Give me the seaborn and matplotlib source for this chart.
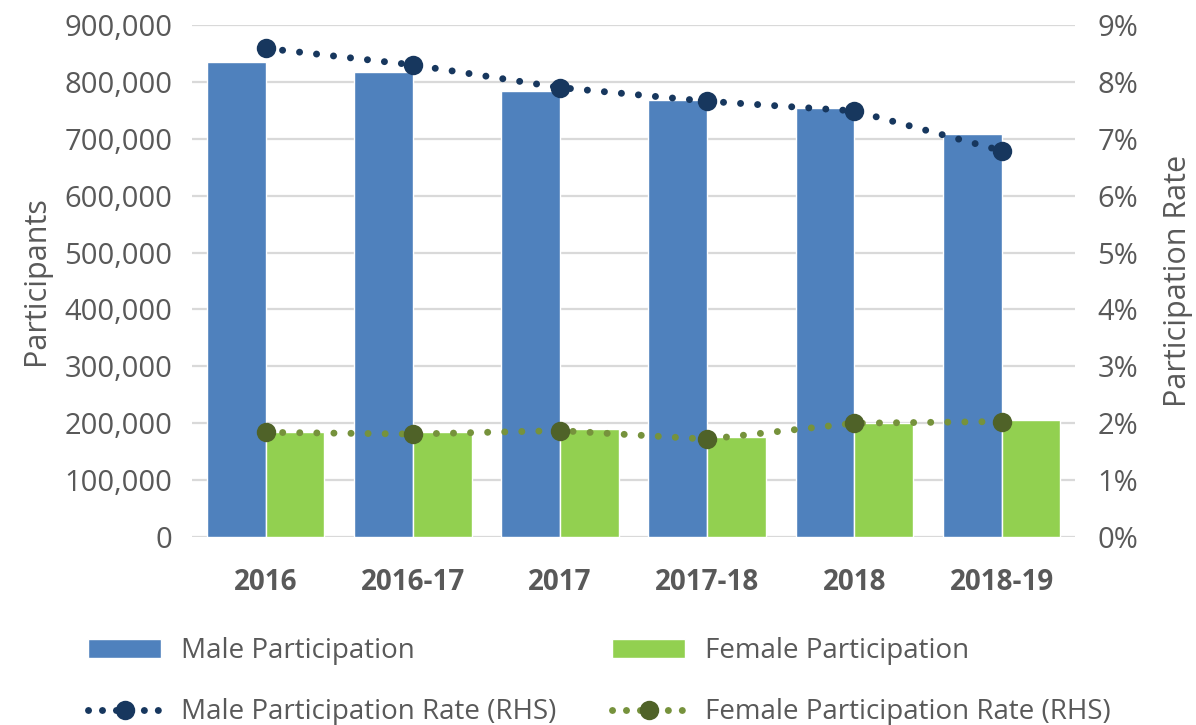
import numpy as np
import pandas as pd
import matplotlib.pyplot as plt
import matplotlib.ticker as mtick
import seaborn as sns
from matplotlib.patches import Patch
from matplotlib.lines import Line2D

# data
periods = ['2016', '2016-17', '2017', '2017-18', '2018', '2018-19']
male_participants = [835000, 818000, 784000, 769000, 754000, 709000]
female_participants = [185000, 184000, 190000, 175000, 200000, 206000]
male_rate = [8.59, 8.30, 7.90, 7.66, 7.49, 6.79]
female_rate = [1.84, 1.81, 1.87, 1.72, 2.00, 2.03]

bars = pd.DataFrame({
    'period': periods * 2,
    'participants': male_participants + female_participants,
    'series': ['Male Participation'] * 6 + ['Female Participation'] * 6,
})

sns.set_theme(style='white')
plt.rcParams['font.family'] = ['Open Sans', 'DejaVu Sans']
grey = '#595959'
navy = '#17375E'
olive = '#76923C'
olive_dark = '#4F6228'
dots = (0, (0.01, 2.45))

fig = plt.figure(figsize=(11.96, 7.25), dpi=100)
ax = fig.add_axes([0.1605, 0.2593, 0.7385, 0.7062])

sns.barplot(data=bars, x='period', y='participants', hue='series',
            palette=['#4F81BD', '#92D050'], order=periods,
            width=0.8, gap=0, saturation=1, ax=ax, legend=False)

ax.set_ylim(0, 900000)
ax.set_yticks(np.arange(0, 900001, 100000))
ax.yaxis.set_major_formatter(mtick.FuncFormatter(lambda v, p: f'{v:,.0f}'))
ax.grid(axis='y', color='#D9D9D9', linewidth=1.6)
ax.set_axisbelow(True)
for s in ax.spines.values():
    s.set_visible(False)
ax.tick_params(axis='y', labelsize=21, colors=grey, length=0, pad=14)
ax.tick_params(axis='x', labelsize=20, colors=grey, length=0, pad=22)
for lbl in ax.get_xticklabels():
    lbl.set_fontweight('bold')
ax.set_xlabel('')
ax.set_ylabel('Participants', fontsize=22, color=grey, labelpad=10)
ax.set_xlim(-0.5, len(periods) - 0.5)

ax2 = ax.twinx()
xpos = np.arange(len(periods))
rates = pd.DataFrame({'x': np.concatenate([xpos, xpos]),
                      'rate': male_rate + female_rate,
                      'series': ['Male Participation Rate (RHS)'] * 6 +
                                ['Female Participation Rate (RHS)'] * 6})
sns.lineplot(data=rates, x='x', y='rate', hue='series',
             palette=[navy, olive], ax=ax2, legend=False,
             linewidth=5, marker='o', markersize=14, markeredgewidth=0)
for ln, fc in zip(ax2.lines, [navy, olive_dark]):
    ln.set_linestyle(dots)
    ln.set_dash_capstyle('round')
    ln.set_markerfacecolor(fc)
ax2.set_ylim(0, 9)
ax2.set_yticks(np.arange(0, 10, 1))
ax2.yaxis.set_major_formatter(mtick.FuncFormatter(lambda v, p: f'{v:.0f}%'))
ax2.tick_params(axis='y', labelsize=21, colors=grey, length=0, pad=16)
ax2.set_ylabel('Participation Rate', fontsize=22, color=grey, labelpad=18)
ax2.set_xlabel('')
ax2.grid(False)
for s in ax2.spines.values():
    s.set_visible(False)
ax2.set_xlim(-0.5, len(periods) - 0.5)

# legend below the plot, two rows
h_mp = Patch(facecolor='#4F81BD', label='Male Participation')
h_fp = Patch(facecolor='#92D050', label='Female Participation')
h_mr = Line2D([], [], color=navy, linewidth=5, linestyle=(0, (0.01, 2.0)),
              dash_capstyle='round', marker='o', markersize=14,
              markeredgewidth=0, label='Male Participation Rate (RHS)')
h_fr = Line2D([], [], color=olive, linewidth=5, linestyle=(0, (0.01, 2.0)),
              dash_capstyle='round', marker='o', markersize=14,
              markerfacecolor=olive_dark, markeredgewidth=0,
              label='Female Participation Rate (RHS)')
leg = fig.legend(handles=[h_mp, h_mr, h_fp, h_fr], ncol=2, loc='lower left',
                 bbox_to_anchor=(0.06, -0.025), frameon=False, fontsize=20,
                 handlelength=2.6, handleheight=0.7, handletextpad=0.75,
                 columnspacing=2.0, labelspacing=1.2, numpoints=1,
                 borderaxespad=0.2)
for t in leg.get_texts():
    t.set_color(grey)

fig.savefig('out.png', dpi=100)
